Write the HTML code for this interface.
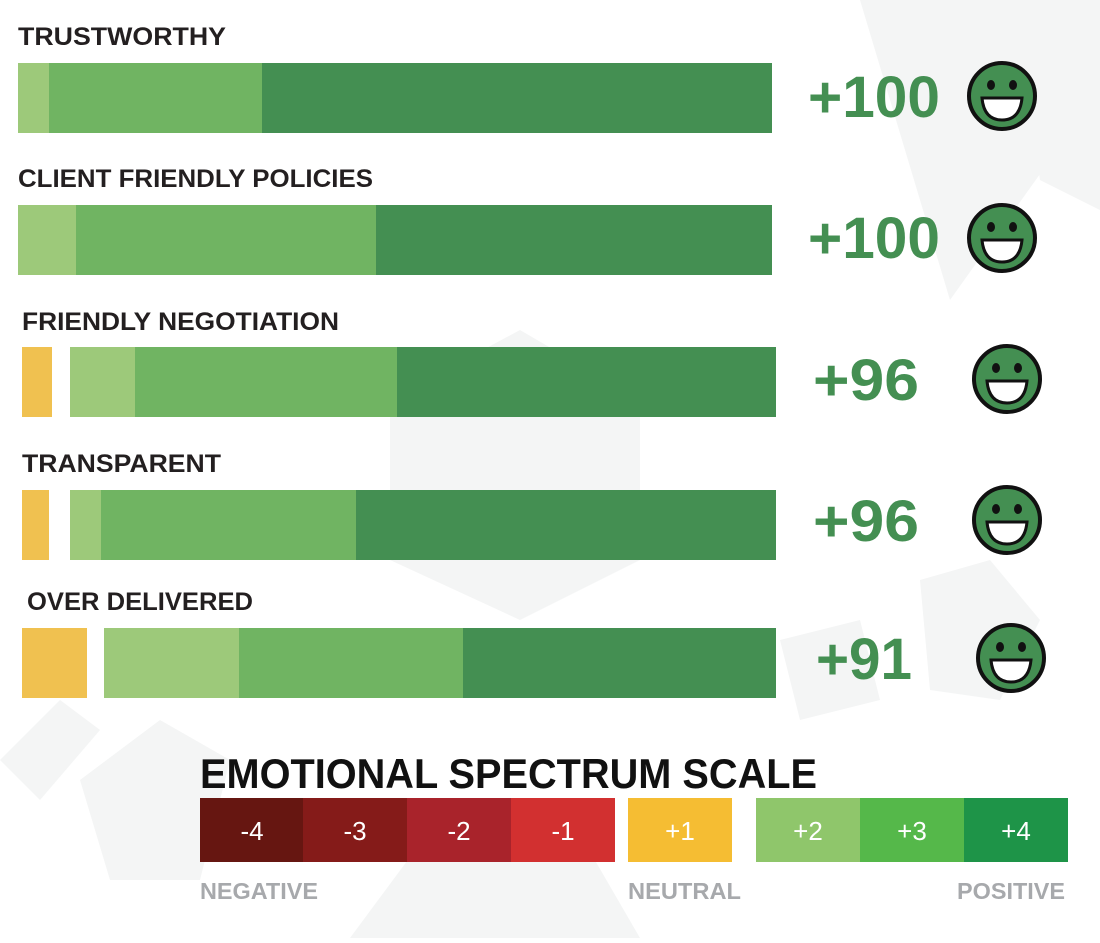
<!DOCTYPE html>
<html><head><style>
body{margin:0;background:#fff}
text{font-family:"Liberation Sans",sans-serif;font-weight:bold}
</style></head><body>
<svg width="1100" height="938" viewBox="0 0 1100 938" xmlns="http://www.w3.org/2000/svg">
<rect width="1100" height="938" fill="#fff"/>
<g fill="#f4f5f5">
<polygon points="860,0 1100,0 1100,90 950,300"/>
<polygon points="1020,40 1100,20 1100,210 1040,180"/>
<polygon points="390,400 520,330 640,400 640,560 520,620 390,560"/>
<polygon points="920,580 990,560 1040,620 1000,700 930,690"/>
<polygon points="80,780 160,720 230,760 200,880 110,880"/>
<polygon points="350,938 430,830 560,800 640,938"/>
<polygon points="0,760 60,700 100,730 40,800"/>
<polygon points="780,640 860,620 880,700 800,720"/>
</g>
<!-- labels -->
<g font-size="25" fill="#231f20">
<text x="18" y="45" textLength="208" lengthAdjust="spacingAndGlyphs">TRUSTWORTHY</text>
<text x="18" y="187" textLength="355" lengthAdjust="spacingAndGlyphs">CLIENT FRIENDLY POLICIES</text>
<text x="22" y="330" textLength="317" lengthAdjust="spacingAndGlyphs">FRIENDLY NEGOTIATION</text>
<text x="22" y="472" textLength="199" lengthAdjust="spacingAndGlyphs">TRANSPARENT</text>
<text x="27" y="610" textLength="226" lengthAdjust="spacingAndGlyphs">OVER DELIVERED</text>
</g>
<!-- bars -->
<rect x="18" y="63" width="31" height="70" fill="#9dc97a"/><rect x="49" y="63" width="213" height="70" fill="#70b462"/><rect x="262" y="63" width="510" height="70" fill="#448f52"/>
<rect x="18" y="205" width="58" height="70" fill="#9dc97a"/><rect x="76" y="205" width="300" height="70" fill="#70b462"/><rect x="376" y="205" width="396" height="70" fill="#448f52"/>
<rect x="22" y="347" width="30" height="70" fill="#f0c150"/><rect x="70" y="347" width="65" height="70" fill="#9dc97a"/><rect x="135" y="347" width="262" height="70" fill="#70b462"/><rect x="397" y="347" width="379" height="70" fill="#448f52"/>
<rect x="22" y="490" width="27" height="70" fill="#f0c150"/><rect x="70" y="490" width="31" height="70" fill="#9dc97a"/><rect x="101" y="490" width="255" height="70" fill="#70b462"/><rect x="356" y="490" width="420" height="70" fill="#448f52"/>
<rect x="22" y="628" width="65" height="70" fill="#f0c150"/><rect x="104" y="628" width="135" height="70" fill="#9dc97a"/><rect x="239" y="628" width="224" height="70" fill="#70b462"/><rect x="463" y="628" width="313" height="70" fill="#448f52"/>
<!-- values -->
<g font-size="58" fill="#448f52">
<text x="808" y="117" textLength="132" lengthAdjust="spacingAndGlyphs">+100</text>
<text x="808" y="258" textLength="132" lengthAdjust="spacingAndGlyphs">+100</text>
<text x="813" y="400" textLength="106" lengthAdjust="spacingAndGlyphs">+96</text>
<text x="813" y="541" textLength="106" lengthAdjust="spacingAndGlyphs">+96</text>
<text x="816" y="679" textLength="96" lengthAdjust="spacingAndGlyphs">+91</text>
</g>
<defs>
<g id="face">
<circle r="33" fill="#448f52" stroke="#111" stroke-width="4"/>
<ellipse cx="-11" cy="-11" rx="4" ry="5" fill="#111"/>
<ellipse cx="11" cy="-11" rx="4" ry="5" fill="#111"/>
<path d="M-20,2 H20 Q18,24 0,24 Q-18,24 -20,2 Z" fill="#fff" stroke="#111" stroke-width="3"/>
</g>
</defs>
<use href="#face" x="1002" y="96"/>
<use href="#face" x="1002" y="238"/>
<use href="#face" x="1007" y="379"/>
<use href="#face" x="1007" y="520"/>
<use href="#face" x="1011" y="658"/>
<!-- scale -->
<text x="200" y="788" font-size="42" fill="#111" textLength="617" lengthAdjust="spacingAndGlyphs">EMOTIONAL SPECTRUM SCALE</text>
<rect x="200" y="798" width="104" height="64" fill="#661611"/>
<rect x="303" y="798" width="104" height="64" fill="#851b19"/>
<rect x="407" y="798" width="104" height="64" fill="#a9232b"/>
<rect x="511" y="798" width="104" height="64" fill="#d23030"/>
<rect x="628" y="798" width="104" height="64" fill="#f5bd33"/>
<rect x="756" y="798" width="104" height="64" fill="#8fc66b"/>
<rect x="860" y="798" width="104" height="64" fill="#55b84a"/>
<rect x="964" y="798" width="104" height="64" fill="#1e9448"/>
<g font-size="26" fill="#fff" text-anchor="middle">
<text x="252" y="840" style="font-weight:normal">-4</text>
<text x="355" y="840" style="font-weight:normal">-3</text>
<text x="459" y="840" style="font-weight:normal">-2</text>
<text x="563" y="840" style="font-weight:normal">-1</text>
<text x="680" y="840" style="font-weight:normal">+1</text>
<text x="808" y="840" style="font-weight:normal">+2</text>
<text x="912" y="840" style="font-weight:normal">+3</text>
<text x="1016" y="840" style="font-weight:normal">+4</text>
</g>
<g font-size="23" fill="#a7a9ac">
<text x="200" y="899" textLength="118" lengthAdjust="spacingAndGlyphs">NEGATIVE</text>
<text x="628" y="899" textLength="113" lengthAdjust="spacingAndGlyphs">NEUTRAL</text>
<text x="957" y="899" textLength="108" lengthAdjust="spacingAndGlyphs">POSITIVE</text>
</g>
</svg>
</body></html>
